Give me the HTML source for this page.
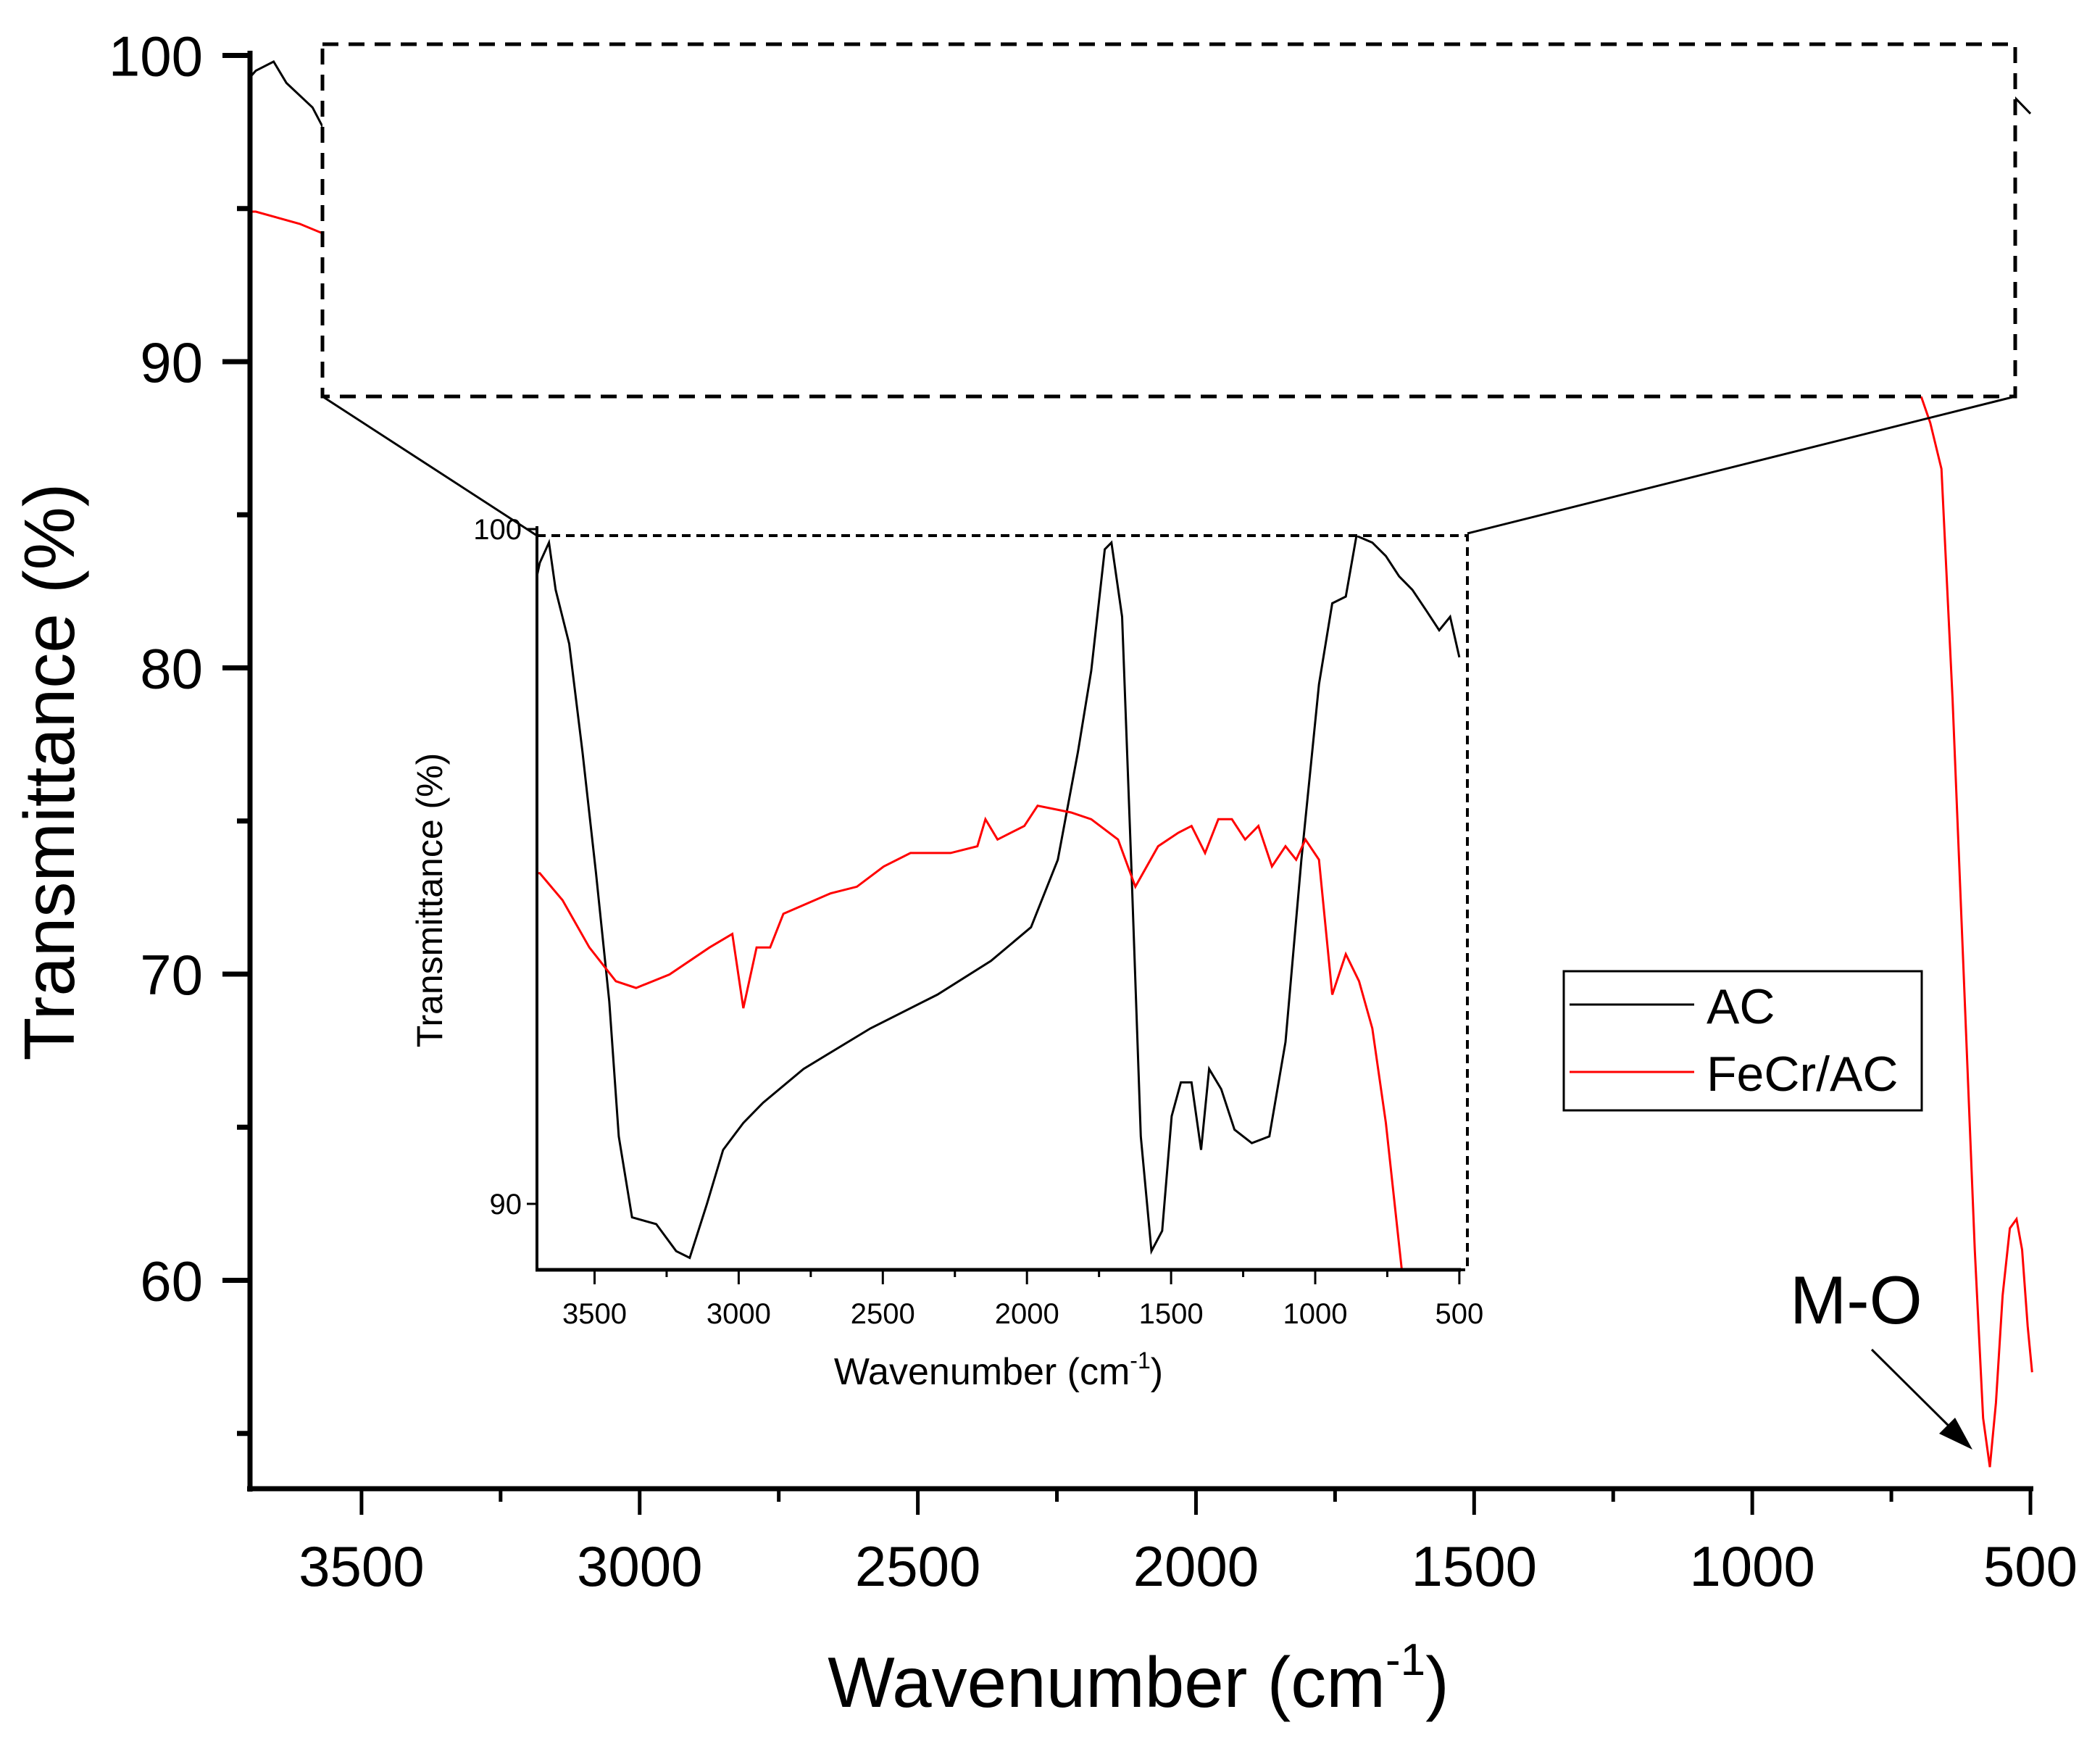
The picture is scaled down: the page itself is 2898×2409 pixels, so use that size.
<!DOCTYPE html>
<html><head><meta charset="utf-8"><style>
html,body{margin:0;padding:0;background:#fff;width:2898px;height:2409px;overflow:hidden;}
svg{display:block;font-family:"Liberation Sans",Arial,sans-serif;}
</style></head><body>
<svg id="chart" width="2898" height="2409" viewBox="0 0 2898 2409" xmlns="http://www.w3.org/2000/svg">
<defs>
<clipPath id="mainClip"><rect x="345" y="40" width="2470" height="2014"/></clipPath>
<clipPath id="insetClip"><rect x="741" y="739" width="1284" height="1013"/></clipPath>
</defs>
<g id="mainCurves" clip-path="url(#mainClip)"></g>
<rect x="445" y="61" width="2336" height="486" fill="#fff" stroke="#000" stroke-width="5" stroke-dasharray="22,14"/>
<line x1="445" y1="547" x2="741" y2="739" stroke="#000" stroke-width="3"/>
<line x1="2781" y1="547" x2="2025" y2="736" stroke="#000" stroke-width="3"/>
<g id="mainAxes"></g>
<rect x="741" y="739" width="1284" height="1013" fill="#fff" stroke="#000" stroke-width="4" stroke-dasharray="12,8"/>
<g id="insetCurves" clip-path="url(#insetClip)"></g>
<g id="insetAxes"></g>
<text transform="translate(102,1065) rotate(-90)" text-anchor="middle" font-size="98">Transmittance (%)</text>
<text x="1571" y="2355" text-anchor="middle" font-size="98">Wavenumber (cm<tspan font-size="62" dy="-44">-1</tspan><tspan dy="44">)</tspan></text>
<text transform="translate(610,1242) rotate(-90)" text-anchor="middle" font-size="50">Transmittance (%)</text>
<text x="1378" y="1910" text-anchor="middle" font-size="52">Wavenumber (cm<tspan font-size="32" dy="-22">-1</tspan><tspan dy="22">)</tspan></text>
<g>
<rect x="2158" y="1340" width="494" height="192" fill="#fff" stroke="#000" stroke-width="3"/>
<line x1="2166" y1="1386" x2="2338" y2="1386" stroke="#000" stroke-width="3"/>
<text x="2355" y="1412" font-size="68">AC</text>
<line x1="2166" y1="1479" x2="2338" y2="1479" stroke="#f00" stroke-width="3"/>
<text x="2355" y="1505" font-size="68">FeCr/AC</text>
</g>
<text x="2470" y="1826" font-size="94">M-O</text>
<line x1="2583" y1="1862" x2="2700" y2="1978" stroke="#000" stroke-width="3"/>
<polygon points="2722,2000 2676,1978 2698,1956" fill="#000"/>
<script>
const wnAC = [3700,3690,3658,3635,3588,3542,3495,3449,3416,3370,3286,3217,3170,3110,3054,2984,2915,2775,2543,2311,2125,1986,1893,1823,1777,1730,1707,1670,1637,1605,1568,1531,1498,1466,1429,1396,1368,1326,1280,1220,1159,1103,1048,987,941,894,857,802,755,709,663,616,570,532,500];
const tAC = [99.3,99.5,99.8,99.1,98.3,96.7,94.9,93.0,91.0,89.8,89.7,89.3,89.2,90.0,90.8,91.2,91.5,92.0,92.6,93.1,93.6,94.1,95.1,96.7,97.9,99.7,99.8,98.7,94.9,91.0,89.3,89.6,91.3,91.8,91.8,90.8,92.0,91.7,91.1,90.9,91.0,92.4,95.1,97.7,98.9,99.0,99.9,99.8,99.6,99.3,99.1,98.8,98.5,98.7,98.1];
const wnFe = [3700,3690,3611,3518,3426,3356,3240,3101,3022,2984,2938,2891,2845,2682,2590,2497,2404,2265,2172,2144,2102,2009,1963,1847,1777,1684,1624,1545,1475,1429,1382,1336,1289,1243,1197,1150,1103,1066,1034,987,941,894,848,802,755,699,680,660,640,620,600,585,573,562,550,537,525,515,505,497];
const tFe = [94.9,94.9,94.5,93.8,93.3,93.2,93.4,93.8,94.0,92.9,93.8,93.8,94.3,94.6,94.7,95.0,95.2,95.2,95.3,95.7,95.4,95.6,95.9,95.8,95.7,95.4,94.7,95.3,95.5,95.6,95.2,95.7,95.7,95.4,95.6,95.0,95.3,95.1,95.4,95.1,93.1,93.7,93.3,92.6,91.2,89.0,88.0,86.5,79,70,61,55.5,53.9,56,59.5,61.7,62,61,58.5,57];
const mainXTicks = [3500,3000,2500,2000,1500,1000,500];
const mainXMinor = [3250,2750,2250,1750,1250,750];
const mainYTicks = [100,90,80,70,60];
const mainYMinor = [95,85,75,65,55];
const insetXTicks = [3500,3000,2500,2000,1500,1000,500];
const insetXMinor = [3250,2750,2250,1750,1250,750];
const insetYTicks = [100,90];

const NS = "http://www.w3.org/2000/svg";
const mx = w => 2802 - (w - 500) * 0.7677;
const my = v => 76.5 + (100 - v) * 42.25;
const ix = w => 820.5 + (3500 - w) * 0.3978;
const iy = v => 730 + (100 - v) * 93.1;

function mk(tag, attrs, parent) {
  const e = document.createElementNS(NS, tag);
  for (const k in attrs) e.setAttribute(k, attrs[k]);
  parent.appendChild(e);
  return e;
}
function pathD(ws, ts, fx, fy) {
  return ws.map((w, i) => (i ? "L" : "M") + fx(w).toFixed(1) + "," + fy(ts[i]).toFixed(1)).join(" ");
}
const mainG = document.getElementById("mainCurves");
let p = mk("path", {d: pathD(wnAC, tAC, mx, my), fill: "none", stroke: "#000", "stroke-width": 3}, mainG);


p = mk("path", {d: pathD(wnFe, tFe, mx, my), fill: "none", stroke: "#f00", "stroke-width": 3}, mainG);



const insG = document.getElementById("insetCurves");
p = mk("path", {d: pathD(wnAC, tAC, ix, iy), fill: "none", stroke: "#000", "stroke-width": 3}, insG);


p = mk("path", {d: pathD(wnFe, tFe, ix, iy), fill: "none", stroke: "#f00", "stroke-width": 3}, insG);



const ax = document.getElementById("mainAxes");
let l = mk("line", {x1: 345, y1: 70, x2: 345, y2: 2058, stroke: "#000", "stroke-width": 7}, ax);


l = mk("line", {x1: 341, y1: 2054, x2: 2806, y2: 2054, stroke: "#000", "stroke-width": 7}, ax);


mainYTicks.forEach(v => {
  const t = mk("line", {x1: 307, y1: my(v), x2: 345, y2: my(v), stroke: "#000", "stroke-width": 7}, ax);
  
  
  const tx = mk("text", {x: 280, y: my(v) + 28, "text-anchor": "end", "font-size": 78}, ax);
  tx.textContent = v;
  
  
});
mainYMinor.forEach(v => {
  const t = mk("line", {x1: 327, y1: my(v), x2: 345, y2: my(v), stroke: "#000", "stroke-width": 7}, ax);
  
  
});
mainXTicks.forEach(w => {
  const t = mk("line", {x1: mx(w), y1: 2054, x2: mx(w), y2: 2090, stroke: "#000", "stroke-width": 5}, ax);
  
  
  const tx = mk("text", {x: mx(w), y: 2188, "text-anchor": "middle", "font-size": 78}, ax);
  tx.textContent = w;
  
  
});
mainXMinor.forEach(w => {
  const t = mk("line", {x1: mx(w), y1: 2054, x2: mx(w), y2: 2072, stroke: "#000", "stroke-width": 5}, ax);
  
  
});

const ia = document.getElementById("insetAxes");
l = mk("line", {x1: 741, y1: 726, x2: 741, y2: 1754, stroke: "#000", "stroke-width": 4}, ia);


l = mk("line", {x1: 739, y1: 1752, x2: 2016, y2: 1752, stroke: "#000", "stroke-width": 5}, ia);


insetYTicks.forEach(v => {
  const t = mk("line", {x1: 727, y1: iy(v), x2: 741, y2: iy(v), stroke: "#000", "stroke-width": 3}, ia);
  
  
  const tx = mk("text", {x: 720, y: iy(v) + 14, "text-anchor": "end", "font-size": 40}, ia);
  tx.textContent = v;
  
  
});
insetXTicks.forEach(w => {
  const t = mk("line", {x1: ix(w), y1: 1752, x2: ix(w), y2: 1772, stroke: "#000", "stroke-width": 3}, ia);
  
  
  const tx = mk("text", {x: ix(w), y: 1826, "text-anchor": "middle", "font-size": 40}, ia);
  tx.textContent = w;
  
  
});
insetXMinor.forEach(w => {
  const t = mk("line", {x1: ix(w), y1: 1752, x2: ix(w), y2: 1762, stroke: "#000", "stroke-width": 3}, ia);
  
  
});
</script>
</svg>
</body></html>
